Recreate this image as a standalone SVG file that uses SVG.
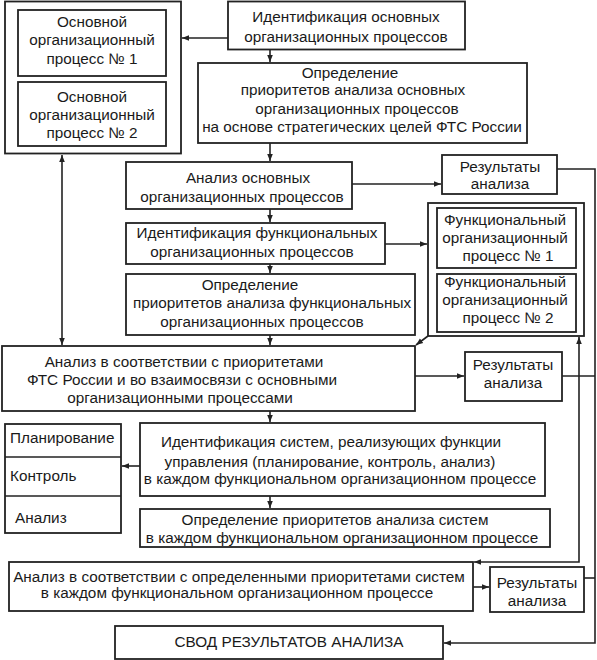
<svg xmlns="http://www.w3.org/2000/svg" width="597" height="660" viewBox="0 0 597 660">
<defs>
<style>
.b{fill:#fff;stroke:#222;stroke-width:1.8}
.c{fill:none;stroke:#222;stroke-width:1.6}
text{font-family:"Liberation Sans",Arial,sans-serif;font-size:15.3px;fill:#1a1a1a;text-anchor:middle}
.l{text-anchor:start}
</style>
<marker id="a" viewBox="0 0 10 10" refX="10" refY="5" markerWidth="7" markerHeight="7" markerUnits="userSpaceOnUse" orient="auto-start-reverse">
<path d="M0,1 L10,5 L0,9 z" fill="#222"/>
</marker>
</defs>
<rect width="597" height="660" fill="#fff"/>

<g id="main-processes">
<rect class="b" x="5" y="1.5" width="176" height="152"/>
<g id="main-process-1">
<rect class="b" x="18" y="10" width="148" height="66"/>
<text x="92" y="27">Основной</text>
<text x="92" y="45">организационный</text>
<text x="92" y="64">процесс № 1</text>
</g>
<g id="main-process-2">
<rect class="b" x="18" y="82" width="148" height="64"/>
<text x="92" y="102">Основной</text>
<text x="92" y="120">организационный</text>
<text x="92" y="138">процесс № 2</text>
</g>
</g>

<g id="identify-main">
<rect class="b" x="228" y="1.5" width="237" height="48"/>
<text x="346" y="22">Идентификация основных</text>
<text x="346" y="42">организационных процессов</text>
</g>

<g id="priorities-main">
<rect class="b" x="198" y="63" width="329" height="80"/>
<text x="350" y="78">Определение</text>
<text x="353" y="95">приоритетов анализа основных</text>
<text x="357" y="114">организационных процессов</text>
<text x="362" y="132">на основе стратегических целей ФТС России</text>
</g>

<g id="analysis-main">
<rect class="b" x="126" y="162" width="226" height="47"/>
<text x="248" y="183">Анализ основных</text>
<text x="242" y="202">организационных процессов</text>
</g>

<g id="results-1">
<rect class="b" x="442" y="155" width="115" height="39"/>
<text x="500" y="172">Результаты</text>
<text x="500" y="189">анализа</text>
</g>

<g id="identify-functional">
<rect class="b" x="126" y="223" width="259" height="41"/>
<text x="257" y="238">Идентификация функциональных</text>
<text x="252" y="257">организационных процессов</text>
</g>

<g id="functional-processes">
<rect class="b" x="428" y="203" width="156" height="133"/>
<g id="functional-process-1">
<rect class="b" x="437" y="208" width="139" height="60"/>
<text x="505" y="225">Функциональный</text>
<text x="505" y="243">организационный</text>
<text x="508" y="261">процесс № 1</text>
</g>
<g id="functional-process-2">
<rect class="b" x="437" y="274" width="139" height="58"/>
<text x="505" y="287">Функциональный</text>
<text x="505" y="305">организационный</text>
<text x="508" y="323">процесс № 2</text>
</g>
</g>

<g id="priorities-functional">
<rect class="b" x="126" y="274" width="289" height="61"/>
<text x="250" y="290">Определение</text>
<text x="272" y="308">приоритетов анализа функциональных</text>
<text x="262" y="327">организационных процессов</text>
</g>

<g id="analysis-functional">
<rect class="b" x="2" y="346" width="413" height="65"/>
<text x="184" y="367">Анализ в соответствии с приоритетами</text>
<text x="182" y="385">ФТС России и во взаимосвязи с основными</text>
<text x="180" y="403">организационными процессами</text>
</g>

<g id="results-2">
<rect class="b" x="465" y="352" width="97" height="49"/>
<text x="513" y="370">Результаты</text>
<text x="513" y="388">анализа</text>
</g>

<g id="management-functions">
<rect class="b" x="5" y="424" width="116" height="109"/>
<line class="c" x1="5" y1="457" x2="121" y2="457"/>
<line class="c" x1="5" y1="496" x2="121" y2="496"/>
<text class="l" x="10" y="443">Планирование</text>
<text class="l" x="10" y="481">Контроль</text>
<text class="l" x="15" y="523">Анализ</text>
</g>

<g id="identify-systems">
<rect class="b" x="140" y="423" width="405" height="73"/>
<text x="331" y="447">Идентификация систем, реализующих функции</text>
<text x="330" y="467">управления (планирование, контроль, анализ)</text>
<text x="340" y="484">в каждом функциональном организационном процессе</text>
</g>

<g id="priorities-systems">
<rect class="b" x="140" y="509" width="410" height="38"/>
<text x="335" y="525">Определение приоритетов анализа систем</text>
<text x="342" y="543">в каждом функциональном организационном процессе</text>
</g>

<g id="analysis-systems">
<rect class="b" x="9" y="562" width="464" height="49"/>
<text x="239" y="582">Анализ в соответствии с определенными приоритетами систем</text>
<text x="237" y="598">в каждом функциональном организационном процессе</text>
</g>

<g id="results-3">
<rect class="b" x="490" y="567" width="94" height="45"/>
<text x="537" y="588">Результаты</text>
<text x="537" y="606">анализа</text>
</g>

<g id="summary">
<rect class="b" x="115" y="626" width="328" height="33"/>
<text x="289" y="647">СВОД РЕЗУЛЬТАТОВ АНАЛИЗА</text>
</g>

<g id="connectors">
<path class="c" d="M228,38 H182" marker-end="url(#a)"/>
<path class="c" d="M270,49.5 V62" marker-end="url(#a)"/>
<path class="c" d="M270,143 V161" marker-end="url(#a)"/>
<path class="c" d="M352,184 H441" marker-end="url(#a)"/>
<path class="c" d="M270,209 V222" marker-end="url(#a)"/>
<path class="c" d="M385,244 H427" marker-end="url(#a)"/>
<path class="c" d="M270,264 V273" marker-end="url(#a)"/>
<path class="c" d="M270,335 V345" marker-end="url(#a)"/>
<path class="c" d="M62,155 V345" marker-start="url(#a)" marker-end="url(#a)"/>
<path class="c" d="M428,336 L416,345" marker-end="url(#a)"/>
<path class="c" d="M474,562 H579 V337" marker-start="url(#a)" marker-end="url(#a)"/>
<path class="c" d="M415,376 H464" marker-end="url(#a)"/>
<path class="c" d="M270,411 V422" marker-end="url(#a)"/>
<path class="c" d="M140,466 H122" marker-end="url(#a)"/>
<path class="c" d="M270,496 V508" marker-end="url(#a)"/>
<path class="c" d="M473,587 H489" marker-end="url(#a)"/>
<path class="c" d="M557,169 H595 V643 H444" marker-end="url(#a)"/>
<path class="c" d="M562,376 H595"/>
<path class="c" d="M584,578 H595"/>
</g>
</svg>
